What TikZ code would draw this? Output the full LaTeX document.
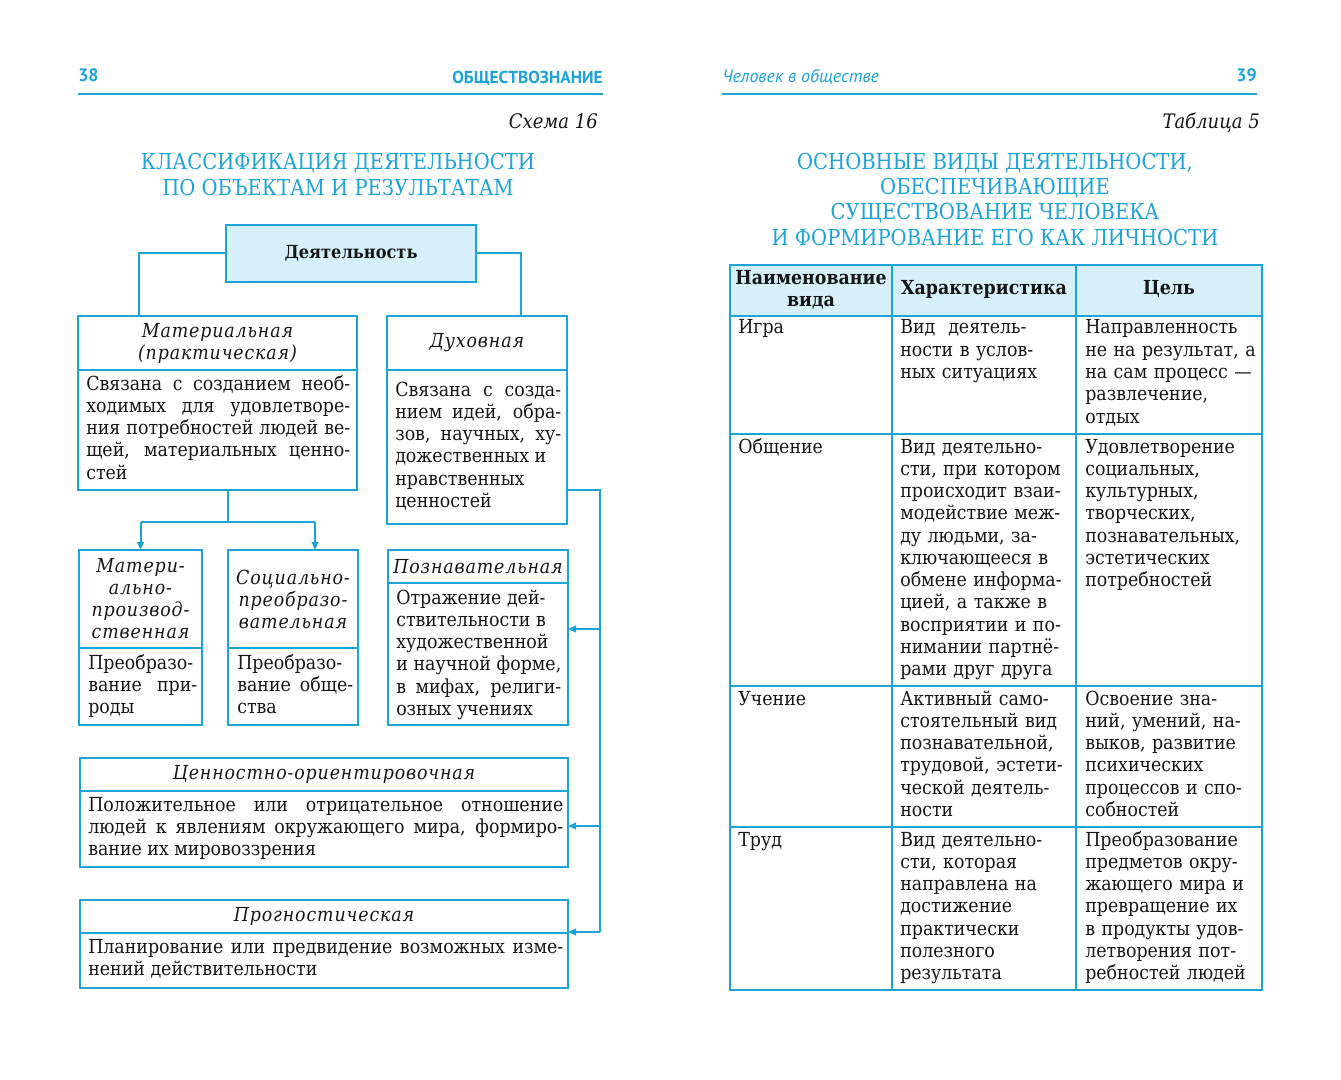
\documentclass[tikz,border=0pt]{standalone}
\usepackage{fontspec}
\setmainfont[FakeStretch=0.9]{DejaVu Serif}
\newfontfamily\hdsans{PT Sans}
\newfontfamily\hdit[FakeStretch=0.9,LetterSpace=4.5]{DejaVu Serif}
\newfontfamily\ttlfont[FakeStretch=0.89]{DejaVu Serif}
\usetikzlibrary{arrows.meta}
\definecolor{cy}{HTML}{1CA3DA}
\definecolor{cyfill}{HTML}{D6F0FA}
\definecolor{ink}{HTML}{161616}
\newcommand\mybody{\fontsize{14.5}{16.7}\selectfont\tolerance=9999\relax}
\newcommand\myhd{\hdit\itshape\fontsize{14.5}{16.5}\selectfont}
\newcommand\myttl{\ttlfont\fontsize{16.5}{20}\selectfont}
\tikzset{
  box/.style={draw=cy, line width=1.5pt, inner sep=0pt, outer sep=0pt, anchor=north west},
  conn/.style={draw=cy, line width=1.5pt},
  arr/.style={conn, -{Triangle[length=6pt,width=5pt]}},
  body/.style={inner sep=0pt, anchor=base west, align=justify, font=\mybody, text=ink},
  cell/.style={inner sep=0pt, anchor=base west, align=left, text width=150pt, font=\mybody, text=ink},
  hd/.style={inner sep=0pt, align=center, font=\myhd, text=ink},
  ttl/.style={inner sep=0pt, anchor=base, font=\myttl, text=cy},
  thd/.style={inner sep=0pt, align=center, font=\mybody\bfseries, text=ink},
  tab/.style={draw=cy, line width=1.7pt},
}
\begin{document}
\begin{tikzpicture}[x=0.75pt,y=-0.75pt]
\fill[white] (0,0) rectangle (1341,1080);
\useasboundingbox (0,0) rectangle (1341,1080);

% ---------- left page header ----------
\node[inner sep=0pt, anchor=base west, text=cy, font=\hdsans\bfseries\fontsize{13.5}{16}\selectfont] (p38) at (78,82) {38};
\node[inner sep=0pt, anchor=base east, text=cy, font=\hdsans\bfseries\fontsize{13}{16}\selectfont] (runl) at (603,84) {ОБЩЕСТВОЗНАНИЕ};
\draw[cy, line width=1.5pt] (78,94) -- (603,94);
\node[inner sep=0pt, anchor=base east, text=ink, font=\itshape\fontsize{15}{18}\selectfont] (sch) at (598,129) {Схема 16};
\node[ttl] (tl1) at (338,170) {КЛАССИФИКАЦИЯ ДЕЯТЕЛЬНОСТИ};
\node[ttl] (tl2) at (338,196) {ПО ОБЪЕКТАМ И РЕЗУЛЬТАТАМ};

% ---------- boxes ----------
\node[box, fill=cyfill, line width=1.8pt, minimum width=187.5pt, minimum height=42.75pt] (act) at (226,225) {};
\node[inner sep=0pt, font=\fontsize{13.5}{16}\selectfont\bfseries, text=ink] (actt) at (351,253) {Деятельность};

\node[box, minimum width=209.25pt, minimum height=130.5pt] (mat) at (78,316) {};
\draw[conn] ([yshift=-40.5pt]mat.north west) -- ([yshift=-40.5pt]mat.north east);
\node[hd] (math) at (217.5,343) {Материальная\\(практическая)};
\node[body, text width=198pt] (matb) at (86,390) {Связана с созданием необ-\linebreak ходимых для удовлетворе-\linebreak ния потребностей людей ве-\linebreak щей, материальных ценно-\linebreak стей};

\node[box, minimum width=135pt, minimum height=156pt] (duh) at (387,316) {};
\draw[conn] ([yshift=-40.5pt]duh.north west) -- ([yshift=-40.5pt]duh.north east);
\node[hd] (duhh) at (477,343) {Духовная};
\node[body, text width=124.5pt] (duhb) at (395,396) {Связана с созда-\linebreak нием идей, обра-\linebreak зов, научных, ху-\linebreak дожественных и\\ нравственных\\ ценностей};

\node[box, minimum width=92.25pt, minimum height=131.25pt] (mp) at (79,550) {};
\draw[conn] ([yshift=-73.5pt]mp.north west) -- ([yshift=-73.5pt]mp.north east);
\node[hd] (mph) at (140.5,599) {Матери-\\ально-\\производ-\\ственная};
\node[body, text width=81.75pt] (mpb) at (88,669) {Преобразо-\\ вание при-\linebreak роды};

\node[box, minimum width=97.5pt, minimum height=131.25pt] (sp) at (228,550) {};
\draw[conn] ([yshift=-73.5pt]sp.north west) -- ([yshift=-73.5pt]sp.north east);
\node[hd] (sph) at (293,599) {Социально-\\преобразо-\\вательная};
\node[body, text width=87pt] (spb) at (237,669) {Преобразо-\\ вание обще-\linebreak ства};

\node[box, minimum width=135pt, minimum height=131.25pt] (poz) at (388,550) {};
\draw[conn] ([yshift=-24.75pt]poz.north west) -- ([yshift=-24.75pt]poz.north east);
\node[hd] (pozh) at (478,566.5) {Познавательная};
\node[body, text width=123.75pt] (pozb) at (396,604) {Отражение дей-\\ ствительности в\\ художественной\\ и научной форме,\linebreak в мифах, религи-\linebreak озных учениях};

\node[box, minimum width=366pt, minimum height=81.75pt] (cen) at (80,758) {};
\draw[conn] ([yshift=-24.75pt]cen.north west) -- ([yshift=-24.75pt]cen.north east);
\node[hd] (cenh) at (324,774.5) {Ценностно-ориентировочная};
\node[body, text width=356.25pt] (cenb) at (88,811) {Положительное или отрицательное отношение\linebreak людей к явлениям окружающего мира, формиро-\linebreak вание их мировоззрения};

\node[box, minimum width=366pt, minimum height=66pt] (pro) at (80,900) {};
\draw[conn] ([yshift=-24.75pt]pro.north west) -- ([yshift=-24.75pt]pro.north east);
\node[hd] (proh) at (324,916.5) {Прогностическая};
\node[body, text width=356.25pt] (prob) at (88,953) {Планирование или предвидение возможных изме-\linebreak нений действительности};

% ---------- connectors ----------
\coordinate (matin) at (139,316);
\coordinate (duhin) at (521,316);
\draw[conn] (act.west) -| (matin);
\draw[conn] (act.east) -| (duhin);
\coordinate (matout) at (228,490);
\coordinate (splitM) at (228,522);
\coordinate (splitL) at (140.5,522);
\coordinate (splitR) at (315,522);
\coordinate (spin) at (315,550);
\draw[conn] (matout) -- (splitM);
\draw[conn] (splitL) -- (splitR);
\draw[arr] (splitL) -- (mp.north);
\draw[arr] (splitR) -- (spin);

\coordinate (duhout) at (567,490);
\coordinate (rtop) at (600,490);
\coordinate (rbot) at (600,932);
\draw[conn] (duhout) -- (rtop) -- (rbot);
\coordinate (r1) at (600,629);
\coordinate (pozin) at (568,629);
\coordinate (r2) at (600,826);
\coordinate (cenin) at (568,826);
\coordinate (proin) at (568,932);
\draw[arr] (r1) -- (pozin);
\draw[arr] (r2) -- (cenin);
\draw[arr] (rbot) -- (proin);

% ---------- right page header ----------
\node[inner sep=0pt, anchor=base west, text=cy, font=\hdsans\itshape\fontsize{13.5}{16}\selectfont] (runr) at (722,83) {Человек в обществе};
\node[inner sep=0pt, anchor=base east, text=cy, font=\hdsans\bfseries\fontsize{13.5}{16}\selectfont] (p39) at (1257,82) {39};
\draw[cy, line width=1.5pt] (722,94) -- (1257,94);
\node[inner sep=0pt, anchor=base east, text=ink, font=\itshape\fontsize{15}{18}\selectfont] (tab5) at (1260,129) {Таблица 5};
\node[ttl] (tr1) at (995,170) {ОСНОВНЫЕ ВИДЫ ДЕЯТЕЛЬНОСТИ,};
\node[ttl] (tr2) at (995,195) {ОБЕСПЕЧИВАЮЩИЕ};
\node[ttl] (tr3) at (995,220) {СУЩЕСТВОВАНИЕ ЧЕЛОВЕКА};
\node[ttl] (tr4) at (995,246) {И ФОРМИРОВАНИЕ ЕГО КАК ЛИЧНОСТИ};

% ---------- table ----------
\fill[cyfill] (730,265) rectangle (1262,316);
\draw[tab] (730,265) rectangle (1262,990);
\draw[tab] (892,265) -- (892,990);
\draw[tab] (1076,265) -- (1076,990);
\draw[tab] (730,316) -- (1262,316);
\draw[tab] (730,434) -- (1262,434);
\draw[tab] (730,686) -- (1262,686);
\draw[tab] (730,827) -- (1262,827);

\node[thd] (h1) at (811,290) {Наименование\\вида};
\node[thd] (h2) at (984,289) {Характеристика};
\node[thd] (h3) at (1169,289) {Цель};

\node[cell] (c11) at (738,334) {Игра};
\node[cell] (c12) at (900,334) {Вид\ \ деятель-\\ности в услов-\\ных ситуациях};
\node[cell] (c13) at (1085,334) {Направленность\\не на результат, а\\на сам процесс —\\развлечение,\\отдых};

\node[cell] (c21) at (738,453) {Общение};
\node[cell] (c22) at (900,453) {Вид деятельно-\\сти, при котором\\происходит взаи-\\модействие меж-\\ду людьми, за-\\ключающееся в\\обмене информа-\\цией, а также в\\восприятии и по-\\нимании партнё-\\рами друг друга};
\node[cell] (c23) at (1085,453) {Удовлетворение\\социальных,\\культурных,\\творческих,\\познавательных,\\эстетических\\потребностей};

\node[cell] (c31) at (738,705) {Учение};
\node[cell] (c32) at (900,705) {Активный само-\\стоятельный вид\\познавательной,\\трудовой, эстети-\\ческой деятель-\\ности};
\node[cell] (c33) at (1085,705) {Освоение зна-\\ний, умений, на-\\выков, развитие\\психических\\процессов и спо-\\собностей};

\node[cell] (c41) at (738,846) {Труд};
\node[cell] (c42) at (900,846) {Вид деятельно-\\сти, которая\\направлена на\\достижение\\практически\\полезного\\результата};
\node[cell] (c43) at (1085,846) {Преобразование\\предметов окру-\\жающего мира и\\превращение их\\в продукты удов-\\летворения пот-\\ребностей людей};
\end{tikzpicture}
\end{document}
